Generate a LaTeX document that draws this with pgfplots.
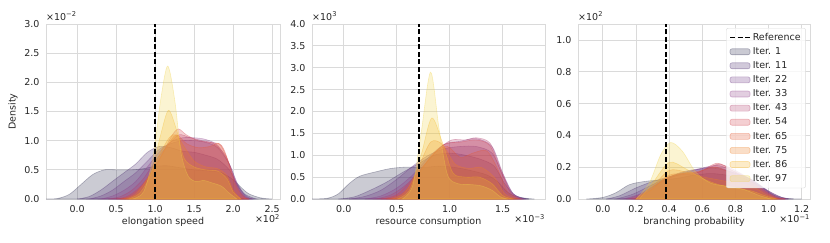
\documentclass[border=0pt]{standalone}
\usepackage{fontspec}
\setmainfont{DejaVu Sans}
\usepackage{pgfplots}
\pgfplotsset{compat=1.18}
\definecolor{gridc}{RGB}{218,218,218}
\definecolor{txt}{RGB}{38,38,38}
\definecolor{c1}{HTML}{2E2E50}
\definecolor{c11}{HTML}{4A2C6E}
\definecolor{c22}{HTML}{6A3682}
\definecolor{c33}{HTML}{8E3C88}
\definecolor{c43}{HTML}{B23E6C}
\definecolor{c54}{HTML}{D4434E}
\definecolor{c65}{HTML}{E45A34}
\definecolor{c75}{HTML}{EE7E22}
\definecolor{c86}{HTML}{F5B324}
\definecolor{c97}{HTML}{EFD24A}
\newcommand{\fs}{\fontsize{9.5}{11}\selectfont}
\pgfplotsset{
  base/.style={
    scale only axis, width=234pt, height=175pt,
    axis line style={gridc, line width=0.8pt},
    grid=major, major grid style={gridc, line width=0.8pt},
    major tick length=0pt, tick style={draw=none},
    ymin=0, scaled ticks=false,
    tick label style={font=\fs, text=txt},
    label style={font=\fs, text=txt},
    xticklabel style={yshift=-3pt},
    yticklabel style={xshift=-3pt},
    xlabel style={yshift=2pt},
    /pgf/number format/fixed,
    /pgf/number format/fixed zerofill,
    /pgf/number format/precision=1,
    /pgf/number format/assume math mode=true,
  },
  kde/.style={fill=#1, draw=#1, fill opacity=0.25, draw opacity=0.35, line width=0.6pt, smooth,
    legend image code/.code={\draw[##1] (0pt,-3pt) rectangle (20pt,3pt);}},
  refline/.style={black, line width=1.5pt, dash pattern=on 5pt off 2.5pt},
  refleg/.style={legend image code/.code={\draw[##1] (0pt,0pt) -- (20pt,0pt);}},
}
\begin{document}
\begin{tikzpicture}
\path[use as bounding box] (0,0) rectangle (830pt,242pt);
% ---------------- Panel 1 ----------------
\begin{axis}[base, name=ax1, at={(46pt,43pt)}, anchor=south west,
  xmin=-0.4, xmax=2.6, ymax=3.0,
  xtick={0,0.5,1.0,1.5,2.0,2.5}, ytick={0,0.5,1.0,1.5,2.0,2.5,3.0},
  xlabel={elongation speed}, ylabel={Density}]
\addplot[kde=c1] coordinates {(-0.4,0)(-0.25,0.01)(-0.1,0.08)(0.05,0.25)(0.2,0.42)(0.35,0.5)(0.5,0.5)(0.7,0.5)(0.85,0.52)(1.0,0.56)(1.15,0.57)(1.3,0.54)(1.5,0.5)(1.7,0.48)(1.85,0.45)(2.0,0.33)(2.1,0.2)(2.2,0.09)(2.35,0.02)(2.5,0)} \closedcycle;
\addplot[kde=c11] coordinates {(0.0,0)(0.15,0.04)(0.3,0.15)(0.45,0.3)(0.6,0.45)(0.75,0.6)(0.9,0.8)(1.05,0.9)(1.2,0.88)(1.35,0.82)(1.5,0.8)(1.65,0.75)(1.8,0.68)(1.95,0.5)(2.05,0.25)(2.15,0.08)(2.3,0)} \closedcycle;
\addplot[kde=c22] coordinates {(0.15,0)(0.3,0.05)(0.45,0.15)(0.6,0.3)(0.75,0.45)(0.9,0.65)(1.05,0.85)(1.2,0.95)(1.35,1.0)(1.5,1.0)(1.65,0.97)(1.8,0.88)(1.95,0.6)(2.05,0.28)(2.15,0.07)(2.25,0)} \closedcycle;
\addplot[kde=c33] coordinates {(0.3,0)(0.45,0.05)(0.6,0.15)(0.75,0.3)(0.9,0.55)(1.05,0.8)(1.2,0.98)(1.35,1.05)(1.5,1.05)(1.65,1.02)(1.8,0.92)(1.95,0.6)(2.05,0.25)(2.15,0.05)(2.25,0)} \closedcycle;
\addplot[kde=c43] coordinates {(0.4,0)(0.55,0.04)(0.7,0.15)(0.85,0.35)(1.0,0.65)(1.15,0.9)(1.3,1.1)(1.45,1.05)(1.6,1.0)(1.75,0.95)(1.9,0.75)(2.0,0.4)(2.1,0.1)(2.2,0)} \closedcycle;
\addplot[kde=c54] coordinates {(0.5,0)(0.65,0.05)(0.8,0.2)(0.95,0.45)(1.1,0.8)(1.22,1.1)(1.3,1.2)(1.4,1.1)(1.55,1.0)(1.7,0.97)(1.85,0.92)(1.95,0.6)(2.05,0.2)(2.15,0.02)(2.2,0)} \closedcycle;
\addplot[kde=c65] coordinates {(0.55,0)(0.7,0.06)(0.85,0.25)(1.0,0.55)(1.15,0.9)(1.27,1.1)(1.4,0.95)(1.55,0.88)(1.7,0.9)(1.82,0.95)(1.92,0.7)(2.02,0.25)(2.12,0.03)(2.2,0)} \closedcycle;
\addplot[kde=c75] coordinates {(0.6,0)(0.75,0.08)(0.9,0.35)(1.05,0.75)(1.18,1.05)(1.27,1.1)(1.37,0.9)(1.5,0.65)(1.65,0.55)(1.8,0.52)(1.92,0.4)(2.0,0.15)(2.1,0)} \closedcycle;
\addplot[kde=c86] coordinates {(0.65,0)(0.8,0.1)(0.95,0.45)(1.07,1.1)(1.17,1.52)(1.27,1.2)(1.37,0.7)(1.5,0.55)(1.65,0.5)(1.8,0.48)(1.92,0.35)(2.0,0.12)(2.1,0)} \closedcycle;
\addplot[kde=c97] coordinates {(0.7,0)(0.85,0.12)(0.97,0.7)(1.07,1.7)(1.16,2.28)(1.25,1.7)(1.33,0.8)(1.42,0.4)(1.52,0.3)(1.62,0.32)(1.72,0.28)(1.85,0.22)(1.95,0.1)(2.05,0)} \closedcycle;
\addplot[refline] coordinates {(1.0,0)(1.0,3.0)};
\end{axis}
\node[anchor=south west, font=\fs, text=txt, inner sep=0pt] at ([yshift=3pt]ax1.north west) {×10\textsuperscript{−2}};
\node[anchor=north east, font=\fs, text=txt, inner sep=0pt] at ([yshift=-15pt]ax1.south east) {×10\textsuperscript{2}};
% ---------------- Panel 2 ----------------
\begin{axis}[base, name=ax2, at={(312pt,43pt)}, anchor=south west, width=233pt,
  xmin=-0.3, xmax=1.9, ymax=4.0,
  xtick={0,0.5,1.0,1.5}, ytick={0,0.5,1.0,1.5,2.0,2.5,3.0,3.5,4.0},
  xlabel={resource consumption}]
\addplot[kde=c1] coordinates {(-0.3,0)(-0.15,0.02)(-0.05,0.12)(0.05,0.35)(0.15,0.52)(0.3,0.62)(0.45,0.7)(0.6,0.73)(0.75,0.72)(0.9,0.75)(1.05,0.72)(1.2,0.65)(1.35,0.55)(1.45,0.4)(1.55,0.15)(1.65,0.04)(1.8,0)} \closedcycle;
\addplot[kde=c11] coordinates {(-0.05,0)(0.1,0.05)(0.25,0.2)(0.4,0.38)(0.55,0.6)(0.7,0.8)(0.85,1.0)(1.0,1.05)(1.15,1.0)(1.3,0.9)(1.42,0.75)(1.52,0.35)(1.62,0.08)(1.75,0)} \closedcycle;
\addplot[kde=c22] coordinates {(0.05,0)(0.2,0.06)(0.35,0.2)(0.5,0.45)(0.65,0.75)(0.8,1.0)(0.95,1.15)(1.1,1.2)(1.25,1.2)(1.4,1.05)(1.5,0.55)(1.6,0.12)(1.72,0)} \closedcycle;
\addplot[kde=c33] coordinates {(0.2,0)(0.35,0.07)(0.5,0.25)(0.65,0.55)(0.8,0.95)(0.95,1.25)(1.1,1.32)(1.25,1.38)(1.4,1.2)(1.5,0.6)(1.6,0.12)(1.7,0)} \closedcycle;
\addplot[kde=c43] coordinates {(0.3,0)(0.45,0.1)(0.6,0.35)(0.75,0.75)(0.9,1.15)(1.02,1.35)(1.15,1.35)(1.25,1.4)(1.38,1.28)(1.48,0.7)(1.58,0.15)(1.68,0)} \closedcycle;
\addplot[kde=c54] coordinates {(0.35,0)(0.5,0.1)(0.65,0.45)(0.8,0.9)(0.95,1.25)(1.1,1.3)(1.25,1.35)(1.38,1.22)(1.48,0.65)(1.58,0.12)(1.68,0)} \closedcycle;
\addplot[kde=c65] coordinates {(0.4,0)(0.55,0.12)(0.7,0.55)(0.85,1.05)(0.98,1.2)(1.1,0.95)(1.22,1.05)(1.35,1.1)(1.45,0.7)(1.55,0.15)(1.65,0)} \closedcycle;
\addplot[kde=c75] coordinates {(0.45,0)(0.58,0.15)(0.7,0.7)(0.82,1.3)(0.93,1.25)(1.05,0.8)(1.18,0.7)(1.3,0.72)(1.42,0.5)(1.52,0.12)(1.62,0)} \closedcycle;
\addplot[kde=c86] coordinates {(0.5,0)(0.62,0.2)(0.73,1.0)(0.83,1.85)(0.93,1.3)(1.03,0.6)(1.15,0.5)(1.28,0.5)(1.4,0.35)(1.5,0.08)(1.6,0)} \closedcycle;
\addplot[kde=c97] coordinates {(0.55,0)(0.65,0.3)(0.73,1.5)(0.82,2.9)(0.9,1.6)(0.98,0.55)(1.08,0.35)(1.2,0.33)(1.3,0.3)(1.4,0.2)(1.48,0.05)(1.55,0)} \closedcycle;
\addplot[refline] coordinates {(0.71,0)(0.71,4.0)};
\end{axis}
\node[anchor=south west, font=\fs, text=txt, inner sep=0pt] at ([yshift=3pt]ax2.north west) {×10\textsuperscript{3}};
\node[anchor=north east, font=\fs, text=txt, inner sep=0pt] at ([yshift=-15pt]ax2.south east) {×10\textsuperscript{−3}};
% ---------------- Panel 3 ----------------
\begin{axis}[base, name=ax3, at={(578pt,43pt)}, anchor=south west, width=232pt,
  xmin=-0.15, xmax=1.25, ymax=1.1,
  xtick={0,0.2,0.4,0.6,0.8,1.0,1.2}, ytick={0,0.2,0.4,0.6,0.8,1.0},
  xlabel={branching probability},
  legend style={at={(0.982,0.977)}, anchor=north east, draw=gridc, fill=white, fill opacity=0.8, text opacity=1,
    rounded corners=2pt, font=\fs, text=txt, row sep=1.6pt, inner sep=3pt},
  legend cell align=left]
\addlegendimage{refline, refleg}
\addlegendentry{Reference}
\addplot[kde=c1] coordinates {(-0.1,0)(0.0,0.01)(0.08,0.04)(0.16,0.09)(0.25,0.11)(0.35,0.12)(0.45,0.13)(0.55,0.15)(0.65,0.16)(0.75,0.15)(0.85,0.13)(0.95,0.08)(1.02,0.03)(1.1,0.005)(1.2,0)} \closedcycle;
\addlegendentry{Iter. 1}
\addplot[kde=c11] coordinates {(0.02,0)(0.1,0.02)(0.2,0.07)(0.3,0.11)(0.4,0.14)(0.5,0.17)(0.6,0.19)(0.7,0.19)(0.8,0.16)(0.9,0.12)(1.0,0.05)(1.08,0.01)(1.15,0)} \closedcycle;
\addlegendentry{Iter. 11}
\addplot[kde=c22] coordinates {(0.08,0)(0.18,0.03)(0.28,0.08)(0.38,0.13)(0.48,0.17)(0.58,0.19)(0.68,0.2)(0.78,0.17)(0.88,0.13)(0.98,0.06)(1.06,0.01)(1.12,0)} \closedcycle;
\addlegendentry{Iter. 22}
\addplot[kde=c33] coordinates {(0.12,0)(0.22,0.03)(0.32,0.09)(0.42,0.14)(0.52,0.17)(0.62,0.2)(0.7,0.21)(0.8,0.17)(0.9,0.12)(1.0,0.05)(1.08,0.01)(1.12,0)} \closedcycle;
\addlegendentry{Iter. 33}
\addplot[kde=c43] coordinates {(0.15,0)(0.25,0.04)(0.35,0.11)(0.45,0.15)(0.55,0.16)(0.65,0.2)(0.7,0.22)(0.78,0.19)(0.88,0.13)(0.98,0.05)(1.05,0.01)(1.1,0)} \closedcycle;
\addlegendentry{Iter. 43}
\addplot[kde=c54] coordinates {(0.18,0)(0.28,0.05)(0.38,0.13)(0.48,0.16)(0.58,0.17)(0.69,0.225)(0.78,0.18)(0.88,0.12)(0.98,0.05)(1.05,0.01)(1.1,0)} \closedcycle;
\addlegendentry{Iter. 54}
\addplot[kde=c65] coordinates {(0.2,0)(0.3,0.06)(0.4,0.15)(0.5,0.16)(0.6,0.18)(0.68,0.2)(0.78,0.16)(0.88,0.11)(0.98,0.04)(1.05,0.005)(1.1,0)} \closedcycle;
\addlegendentry{Iter. 65}
\addplot[kde=c75] coordinates {(0.2,0)(0.3,0.08)(0.4,0.18)(0.5,0.17)(0.6,0.14)(0.7,0.12)(0.8,0.1)(0.9,0.08)(0.98,0.03)(1.05,0)} \closedcycle;
\addlegendentry{Iter. 75}
\addplot[kde=c86] coordinates {(0.22,0)(0.3,0.1)(0.4,0.23)(0.5,0.19)(0.6,0.13)(0.7,0.09)(0.8,0.07)(0.9,0.05)(0.98,0.02)(1.05,0)} \closedcycle;
\addlegendentry{Iter. 86}
\addplot[kde=c97] coordinates {(0.2,0)(0.28,0.1)(0.35,0.28)(0.41,0.355)(0.48,0.3)(0.56,0.17)(0.65,0.1)(0.75,0.08)(0.85,0.06)(0.95,0.02)(1.02,0)} \closedcycle;
\addlegendentry{Iter. 97}
\addplot[refline, forget plot] coordinates {(0.38,0)(0.38,1.1)};
\end{axis}
\node[anchor=south west, font=\fs, text=txt, inner sep=0pt] at ([yshift=3pt]ax3.north west) {×10\textsuperscript{2}};
\node[anchor=north east, font=\fs, text=txt, inner sep=0pt] at ([yshift=-15pt]ax3.south east) {×10\textsuperscript{−1}};
\end{tikzpicture}
\end{document}
